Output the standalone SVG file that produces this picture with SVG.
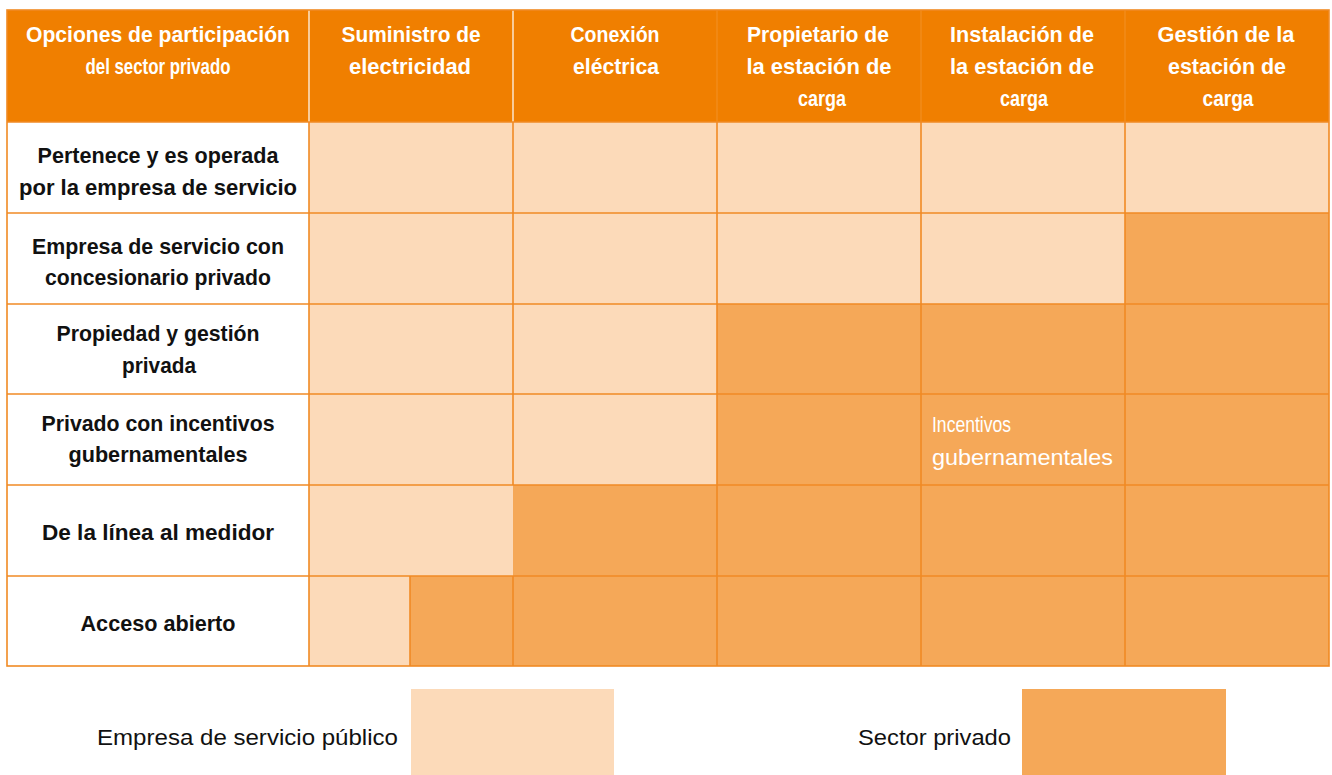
<svg xmlns="http://www.w3.org/2000/svg" width="1332" height="775" viewBox="0 0 1332 775">
<style>
.hdr{fill:#F07F00}
.lt{fill:#FCDAB9}
.dk{fill:#F5A858}
.grid{stroke:#F08A24;stroke-width:1.6;fill:none}
.ht{font-family:"Liberation Sans",Arial,sans-serif;font-weight:bold;font-size:22px;fill:#fff;text-anchor:middle}
.rt{font-family:"Liberation Sans",Arial,sans-serif;font-weight:bold;font-size:22px;fill:#111;text-anchor:middle}
.wt{font-family:"Liberation Sans",Arial,sans-serif;font-size:22px;fill:#fff}
.lg{font-family:"Liberation Sans",Arial,sans-serif;font-size:22px;fill:#111}
</style>
<rect width="1332" height="775" fill="#fff"/>
<g id="header">
<rect class="hdr" x="7" y="10" width="1322" height="112"/>
<line x1="309" y1="10" x2="309" y2="122" stroke="#fff" stroke-width="1.2"/>
<line x1="513" y1="10" x2="513" y2="122" stroke="#fff" stroke-width="1.2"/>
<line x1="717" y1="10" x2="717" y2="122" stroke="#fff" stroke-width="1" opacity="0.15"/>
<line x1="921" y1="10" x2="921" y2="122" stroke="#fff" stroke-width="1" opacity="0.15"/>
<line x1="1125" y1="10" x2="1125" y2="122" stroke="#fff" stroke-width="1" opacity="0.15"/>
<text class="ht" x="158" y="42" textLength="264" lengthAdjust="spacingAndGlyphs">Opciones de participación</text>
<text class="ht" x="158" y="74" textLength="145" lengthAdjust="spacingAndGlyphs">del sector privado</text>
<text class="ht" x="411" y="42" textLength="139" lengthAdjust="spacingAndGlyphs">Suministro de</text>
<text class="ht" x="410" y="74" textLength="122" lengthAdjust="spacingAndGlyphs">electricidad</text>
<text class="ht" x="615" y="42" textLength="89" lengthAdjust="spacingAndGlyphs">Conexión</text>
<text class="ht" x="616" y="74" textLength="86" lengthAdjust="spacingAndGlyphs">eléctrica</text>
<text class="ht" x="818" y="42" textLength="142" lengthAdjust="spacingAndGlyphs">Propietario de</text>
<text class="ht" x="819" y="74" textLength="145" lengthAdjust="spacingAndGlyphs">la estación de</text>
<text class="ht" x="822" y="106" textLength="48" lengthAdjust="spacingAndGlyphs">carga</text>
<text class="ht" x="1022" y="42" textLength="144" lengthAdjust="spacingAndGlyphs">Instalación de</text>
<text class="ht" x="1022" y="74" textLength="144" lengthAdjust="spacingAndGlyphs">la estación de</text>
<text class="ht" x="1024" y="106" textLength="48" lengthAdjust="spacingAndGlyphs">carga</text>
<text class="ht" x="1226" y="42" textLength="137" lengthAdjust="spacingAndGlyphs">Gestión de la</text>
<text class="ht" x="1227" y="74" textLength="118" lengthAdjust="spacingAndGlyphs">estación de</text>
<text class="ht" x="1228" y="106" textLength="51" lengthAdjust="spacingAndGlyphs">carga</text>
</g>
<g id="cells">
<rect class="lt" x="309" y="122" width="1020" height="91"/>
<rect class="lt" x="309" y="213" width="816" height="91"/>
<rect class="dk" x="1125" y="213" width="204" height="91"/>
<rect class="lt" x="309" y="304" width="408" height="90"/>
<rect class="dk" x="717" y="304" width="612" height="90"/>
<rect class="lt" x="309" y="394" width="408" height="91"/>
<rect class="dk" x="717" y="394" width="612" height="91"/>
<rect class="lt" x="309" y="485" width="204" height="91"/>
<rect class="dk" x="513" y="485" width="816" height="91"/>
<rect class="lt" x="309" y="576" width="101" height="90"/>
<rect class="dk" x="410" y="576" width="919" height="90"/>
</g>
<g id="grid" class="grid">
<rect x="7" y="10" width="1322" height="656"/>
<line x1="7" y1="122" x2="1329" y2="122"/>
<line x1="7" y1="213" x2="1329" y2="213"/>
<line x1="7" y1="304" x2="1329" y2="304"/>
<line x1="7" y1="394" x2="1329" y2="394"/>
<line x1="7" y1="485" x2="1329" y2="485"/>
<line x1="7" y1="576" x2="1329" y2="576"/>
<line x1="309" y1="122" x2="309" y2="666"/>
<line x1="513" y1="122" x2="513" y2="485"/>
<line x1="513" y1="576" x2="513" y2="666"/>
<line x1="410" y1="576" x2="410" y2="666"/>
<line x1="717" y1="122" x2="717" y2="666"/>
<line x1="921" y1="122" x2="921" y2="666"/>
<line x1="1125" y1="122" x2="1125" y2="666"/>
</g>
<g id="rowlabels">
<text class="rt" x="158" y="163" textLength="241" lengthAdjust="spacingAndGlyphs">Pertenece y es operada</text>
<text class="rt" x="158" y="195" textLength="278" lengthAdjust="spacingAndGlyphs">por la empresa de servicio</text>
<text class="rt" x="158" y="254" textLength="252" lengthAdjust="spacingAndGlyphs">Empresa de servicio con</text>
<text class="rt" x="158" y="285" textLength="226" lengthAdjust="spacingAndGlyphs">concesionario privado</text>
<text class="rt" x="158" y="341" textLength="203" lengthAdjust="spacingAndGlyphs">Propiedad y gestión</text>
<text class="rt" x="159" y="373" textLength="74" lengthAdjust="spacingAndGlyphs">privada</text>
<text class="rt" x="158" y="431" textLength="233" lengthAdjust="spacingAndGlyphs">Privado con incentivos</text>
<text class="rt" x="158" y="462" textLength="179" lengthAdjust="spacingAndGlyphs">gubernamentales</text>
<text class="rt" x="158" y="540" textLength="232" lengthAdjust="spacingAndGlyphs">De la línea al medidor</text>
<text class="rt" x="158" y="631" textLength="155" lengthAdjust="spacingAndGlyphs">Acceso abierto</text>
</g>
<g id="incentivos">
<text class="wt" x="932" y="432" textLength="79" lengthAdjust="spacingAndGlyphs">Incentivos</text>
<text class="wt" x="932" y="465" textLength="181" lengthAdjust="spacingAndGlyphs">gubernamentales</text>
</g>
<g id="legend">
<text class="lg" x="97" y="745" textLength="301" lengthAdjust="spacingAndGlyphs">Empresa de servicio público</text>
<rect class="lt" x="411" y="689" width="203" height="86"/>
<text class="lg" x="858" y="745" textLength="153" lengthAdjust="spacingAndGlyphs">Sector privado</text>
<rect class="dk" x="1022" y="689" width="204" height="86"/>
</g>
</svg>
